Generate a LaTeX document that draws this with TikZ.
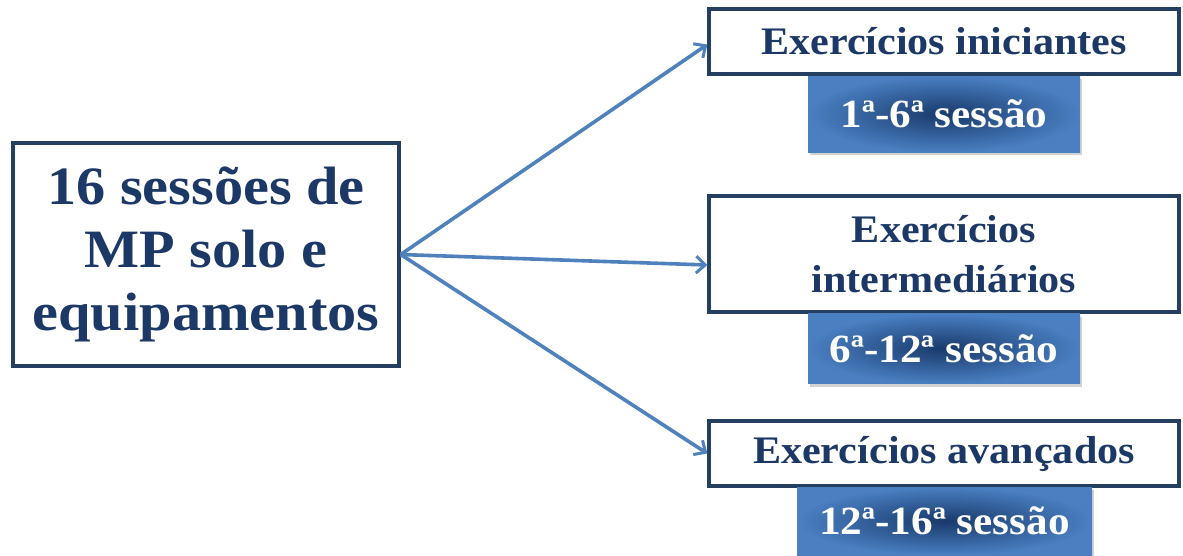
\documentclass[tikz,border=0pt]{standalone}
\usepackage{fontspec}
\setmainfont{Liberation Serif}[FakeStretch=1.08]
\usepackage{tikz}
\usetikzlibrary{arrows.meta}
\usetikzlibrary{shadows}

\definecolor{darkblue}{HTML}{1B3866}
\definecolor{edgeblue}{HTML}{243F60}
\definecolor{arrowblue}{HTML}{4F81BD}
\definecolor{innerblue}{HTML}{183A6B}
\definecolor{outerblue}{HTML}{4A7FC2}

\tikzset{
	textbox/.style={draw=edgeblue,line width=3.4pt,fill=white,text=darkblue,align=center,inner sep=0pt,font=\bfseries\fontsize{39}{50}\selectfont},
	sessionbox/.style={shading=radial,inner color=innerblue,outer color=outerblue,text=white,inner sep=0pt,font=\bfseries\fontsize{40}{48}\selectfont,drop shadow={opacity=0.35,shadow xshift=1.5pt,shadow yshift=-3pt}},
	flow/.style={->,draw=arrowblue,line width=3.6pt}
}

\begin{document}
\begin{tikzpicture}[x=1pt,y=-1pt,>/.tip={Straight Barb[length=9pt,width=17pt,line width=3pt]}]
	\useasboundingbox (0,0) rectangle (1183,555);

	\draw (206,254.5) node (program) [draw=edgeblue,line width=3.4pt,fill=white,text=darkblue,align=center,inner sep=0pt,minimum width=386pt,minimum height=223pt,font=\bfseries\fontsize{54}{63}\selectfont] {16 sessões de\\MP solo e\\equipamentos};

	\draw (944,41.5) node (beginner) [textbox,minimum width=470pt,minimum height=65pt] {Exercícios iniciantes};
	\draw (944,254) node (intermediate) [textbox,minimum width=470pt,minimum height=116pt] {Exercícios\\intermediários};
	\draw (944,453.5) node (advanced) [textbox,minimum width=470pt,minimum height=65pt] {Exercícios avançados};

	\draw (944,114) node (beginnersessions) [sessionbox,minimum width=272pt,minimum height=76pt] {1ª-6ª sessão};
	\draw (944,348.5) node (intermediatesessions) [sessionbox,minimum width=272pt,minimum height=70pt] {6ª-12ª sessão};
	\draw (944.5,521) node (advancedsessions) [sessionbox,minimum width=295pt,minimum height=68pt] {12ª-16ª sessão};

	\draw[flow] (program.east) -- ([yshift=-3pt]beginner.west);
	\draw[flow] (program.east) -- ([yshift=-11pt]intermediate.west);
	\draw[flow] (program.east) -- (advanced.west);
\end{tikzpicture}
\end{document}
